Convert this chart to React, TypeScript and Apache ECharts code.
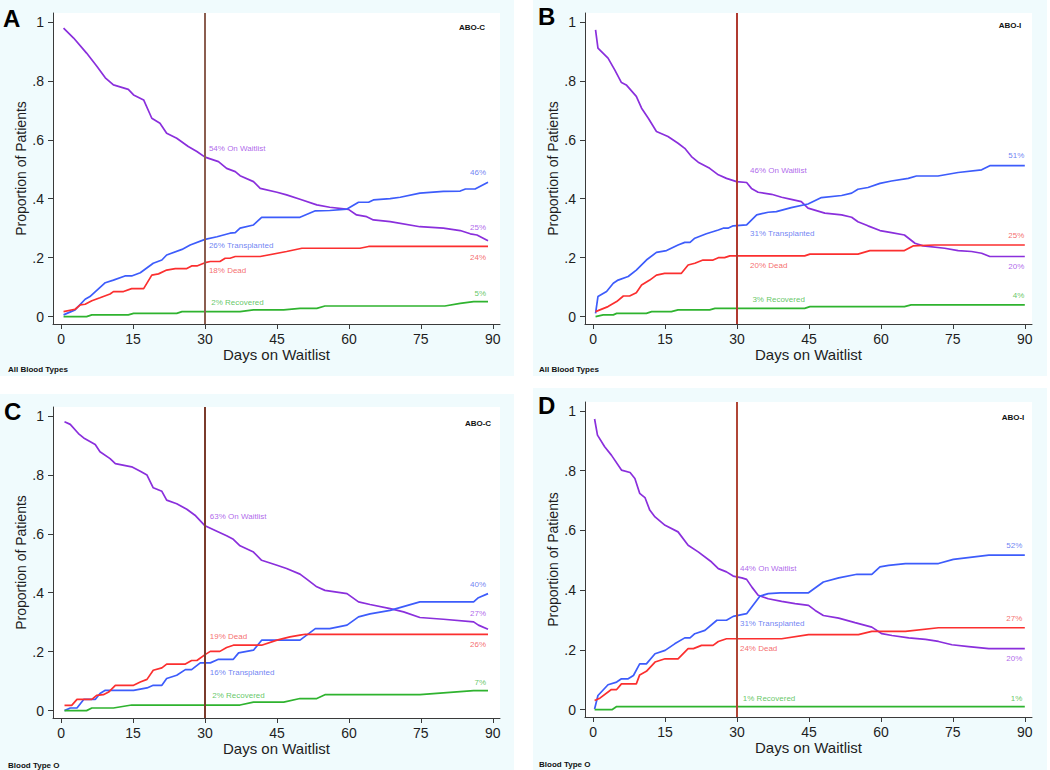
import React, { useEffect, useRef } from "react";
import * as echarts from "echarts";

// ---------- axis ticks ----------
const xTicks = [0, 15, 30, 45, 60, 75, 90];
const xTickLabels = ["0", "15", "30", "45", "60", "75", "90"];
const yTicks = [0, 0.2, 0.4, 0.6, 0.8, 1];
const yTickLabels = ["0", ".2", ".4", ".6", ".8", "1"];
const cutoffDay = 30;
const xTitle = "Days on Waitlist";
const yTitle = "Proportion of Patients";
const seriesNames = ["On Waitlist", "Transplanted", "Dead", "Recovered"];

// ---------- Panel A: ABO-C, all blood types ----------
const aWaitlist = [[0.5,0.979],[2.6,0.945],[5.3,0.894],[7.4,0.85],[9.2,0.81],[10.9,0.786],[14,0.771],[15.1,0.752],[17.2,0.735],[18.9,0.673],[20.6,0.656],[22,0.622],[24.1,0.605],[26.5,0.577],[28.3,0.56],[30,0.541],[32.8,0.526],[34.5,0.503],[36.3,0.492],[37.3,0.478],[40.1,0.458],[41.5,0.435],[45,0.422],[47,0.413],[49.8,0.398],[53.3,0.379],[56,0.371],[59.9,0.364],[61.6,0.345],[63.7,0.339],[65.1,0.328],[68.6,0.322],[74.8,0.305],[79.7,0.3],[83.2,0.292],[85.3,0.281],[86.7,0.277],[89,0.257]];
const aTransplanted = [[0.5,0.006],[2.9,0.023],[5,0.059],[6,0.068],[9.2,0.115],[10.9,0.124],[13.3,0.138],[14.7,0.138],[16.5,0.149],[19.2,0.181],[21,0.192],[22,0.209],[25.2,0.228],[26.9,0.243],[30,0.262],[32.5,0.271],[35.2,0.283],[36.3,0.285],[37.3,0.3],[40.1,0.311],[41.8,0.337],[49.8,0.337],[53,0.359],[56,0.36],[59.6,0.365],[62,0.388],[64.1,0.388],[65.1,0.396],[68.6,0.4],[70.7,0.405],[74.8,0.419],[79.7,0.425],[83.2,0.426],[84.3,0.433],[86.3,0.433],[89,0.456]];
const aDead = [[0.5,0.017],[2.9,0.025],[4,0.04],[5,0.042],[6.4,0.054],[8.1,0.064],[10.2,0.077],[10.9,0.085],[13,0.085],[14.7,0.095],[17.2,0.095],[18.9,0.141],[20.3,0.145],[22,0.158],[23.8,0.163],[26.2,0.163],[27.2,0.172],[28.3,0.172],[30,0.183],[31.1,0.187],[33.1,0.187],[34.2,0.198],[35.2,0.198],[36.3,0.204],[41.5,0.204],[47,0.221],[50.2,0.232],[62.3,0.232],[64.1,0.238],[89,0.238]];
const aRecovered = [[0.5,0],[5.3,0],[6.4,0.006],[14,0.006],[15.1,0.011],[24.1,0.011],[25.2,0.017],[37.3,0.017],[40.1,0.023],[46.4,0.023],[49.8,0.028],[53.3,0.028],[55,0.036],[80,0.036],[83.2,0.045],[86,0.051],[89,0.051]];
const aMidLabels = [[30.7,0.571,"54% On Waitlist"],[30.7,0.24,"26% Transplanted"],[30.7,0.156,"18% Dead"],[31.2,0.049,"2% Recovered"]];
const aEndLabels = [[88.7,0.303,"25%"],[88.7,0.49,"46%"],[88.7,0.2,"24%"],[88.7,0.079,"5%"]];

// ---------- Panel B: ABO-I, all blood types ----------
const bWaitlist = [[0.5,0.973],[1,0.911],[3.1,0.877],[4.5,0.837],[5.9,0.794],[6.9,0.786],[9,0.747],[10.1,0.707],[11.5,0.673],[13.2,0.628],[15.6,0.611],[17.7,0.588],[19.1,0.571],[20.5,0.543],[21.9,0.524],[24.3,0.503],[26.1,0.481],[27.8,0.469],[29.9,0.458],[32,0.455],[33,0.435],[34.4,0.422],[37.2,0.415],[39.3,0.405],[41.3,0.398],[43.4,0.39],[44.8,0.368],[48.3,0.351],[51.8,0.345],[53.9,0.337],[55.2,0.322],[57.3,0.308],[59.8,0.292],[62.2,0.285],[64.9,0.277],[67.1,0.249],[68.8,0.24],[73.3,0.232],[76.1,0.224],[78.9,0.221],[81,0.215],[82.7,0.204],[90,0.204]];
const bTransplanted = [[0.5,0.011],[1,0.068],[2.8,0.085],[4.2,0.113],[5.2,0.124],[7.3,0.136],[9,0.158],[11.1,0.192],[13.2,0.218],[15.3,0.224],[17.7,0.243],[19.1,0.252],[20.2,0.252],[21.2,0.266],[23.6,0.281],[26.1,0.294],[27.1,0.3],[28.1,0.3],[29.2,0.308],[32,0.311],[34.1,0.345],[36.5,0.354],[38.2,0.356],[41.3,0.37],[44.8,0.382],[47.6,0.404],[51.8,0.411],[53.9,0.419],[55.2,0.432],[57.3,0.438],[59.8,0.452],[62.2,0.46],[65.7,0.469],[67.4,0.477],[71.9,0.477],[76.1,0.489],[81,0.498],[82.7,0.512],[90,0.512]];
const bDead = [[0.5,0.017],[3.1,0.034],[4.9,0.051],[6.3,0.07],[7.6,0.07],[9,0.081],[10.1,0.107],[11.8,0.124],[13.2,0.141],[14.9,0.147],[18.4,0.147],[19.8,0.175],[21.2,0.181],[22.9,0.192],[25,0.192],[26.1,0.2],[27.4,0.2],[28.5,0.206],[44.1,0.206],[45.2,0.212],[55.2,0.212],[57.7,0.224],[64.9,0.224],[66.7,0.24],[71.2,0.243],[90,0.243]];
const bRecovered = [[0.5,0],[2.1,0.006],[4.2,0.006],[4.9,0.011],[11.1,0.011],[12.2,0.017],[16.3,0.017],[17.7,0.023],[24.3,0.023],[25.4,0.028],[44.1,0.028],[45.2,0.034],[64.9,0.034],[66.3,0.04],[90,0.04]];
const bMidLabels = [[32.6,0.495,"46% On Waitlist"],[32.6,0.283,"31% Transplanted"],[32.6,0.172,"20% Dead"],[33.1,0.059,"3% Recovered"]];
const bEndLabels = [[90,0.17,"20%"],[90,0.546,"51%"],[90,0.274,"25%"],[90,0.071,"4%"]];

// ---------- Panel C: ABO-C, blood type O ----------
const cWaitlist = [[0.7,0.98],[1.9,0.971],[3.6,0.94],[4.7,0.925],[7.1,0.903],[8.1,0.878],[10.2,0.855],[11.3,0.838],[14.7,0.827],[16.5,0.812],[17.9,0.799],[19.2,0.756],[21,0.744],[22,0.714],[24.1,0.702],[26.2,0.683],[27.9,0.663],[30,0.627],[32.8,0.606],[34.5,0.593],[35.9,0.581],[37.3,0.559],[40.1,0.538],[41.8,0.51],[45,0.493],[47,0.482],[49.8,0.463],[51.2,0.446],[53.3,0.42],[55,0.408],[59.6,0.397],[62,0.369],[64.4,0.36],[68.6,0.346],[71.4,0.335],[74.8,0.316],[79.7,0.31],[86,0.301],[87,0.29],[89,0.276]];
const cTransplanted = [[0.7,0],[1.9,0.009],[3.3,0.009],[4.7,0.038],[7.1,0.038],[8.1,0.058],[9.2,0.069],[15.1,0.069],[17.9,0.077],[19.2,0.086],[21,0.086],[22,0.109],[24.1,0.12],[25.9,0.139],[27.2,0.139],[29,0.162],[31.1,0.162],[32.8,0.174],[35.9,0.174],[37,0.196],[40.1,0.205],[41.8,0.239],[49.8,0.239],[53,0.278],[56,0.278],[59.6,0.29],[62,0.318],[64.4,0.328],[68.6,0.34],[74.8,0.369],[86,0.369],[87,0.383],[89,0.397]];
const cDead = [[0.7,0.018],[2.2,0.018],[3.3,0.038],[6.4,0.038],[7.4,0.052],[8.8,0.054],[9.9,0.063],[11.3,0.086],[15.1,0.086],[16.5,0.097],[17.9,0.106],[19.2,0.137],[21,0.145],[22,0.158],[25.9,0.158],[27.2,0.17],[28.3,0.17],[30,0.19],[31.1,0.201],[33.1,0.201],[34.5,0.214],[35.9,0.222],[41.8,0.222],[45,0.239],[47.7,0.25],[49.8,0.256],[50.9,0.259],[89,0.259]];
const cRecovered = [[0.7,0],[5.3,0],[6.4,0.009],[10.9,0.009],[14.7,0.019],[37.3,0.019],[40.1,0.029],[46.4,0.029],[49.8,0.041],[53.3,0.041],[55,0.054],[74.8,0.054],[77.6,0.058],[86,0.068],[89,0.068]];
const cMidLabels = [[30.9,0.657,"63% On Waitlist"],[30.9,0.129,"16% Transplanted"],[30.9,0.252,"19% Dead"],[31.4,0.052,"2% Recovered"]];
const cEndLabels = [[88.7,0.328,"27%"],[88.7,0.428,"40%"],[88.7,0.226,"26%"],[88.7,0.097,"7%"]];

// ---------- Panel D: ABO-I, blood type O ----------
const dWaitlist = [[0.3,0.973],[0.9,0.919],[2.4,0.88],[3.8,0.852],[5.9,0.802],[7.7,0.794],[8.7,0.774],[9.7,0.724],[10.8,0.71],[11.8,0.668],[12.9,0.645],[15,0.617],[17.7,0.595],[19.8,0.55],[21.9,0.528],[24.7,0.494],[26.1,0.472],[27.8,0.461],[29.2,0.447],[31,0.441],[32,0.436],[33.1,0.41],[34.4,0.383],[36.5,0.371],[39.3,0.362],[42.1,0.355],[44.9,0.349],[46.3,0.332],[48,0.315],[51.2,0.306],[54.6,0.291],[58.1,0.276],[60.2,0.254],[62.3,0.248],[65.8,0.24],[69.3,0.235],[72,0.228],[74.8,0.217],[78.3,0.211],[82.5,0.204],[90,0.204]];
const dTransplanted = [[0.3,0.002],[1,0.047],[3.1,0.083],[4.9,0.092],[5.9,0.103],[7.3,0.103],[8.4,0.114],[9.7,0.153],[11.1,0.153],[12.9,0.187],[15,0.198],[17,0.22],[19.1,0.24],[20.2,0.24],[21.2,0.254],[23.3,0.265],[25.8,0.299],[27.8,0.299],[29.2,0.312],[32,0.321],[34.8,0.38],[36.5,0.388],[39,0.391],[44.9,0.391],[48,0.427],[51.2,0.441],[55,0.453],[58.1,0.453],[59.8,0.478],[61.6,0.483],[65.1,0.489],[72,0.489],[75.1,0.503],[82.5,0.517],[90,0.517]];
const dDead = [[0.3,0.03],[1.4,0.038],[3.8,0.067],[4.9,0.067],[5.9,0.086],[9,0.086],[9.7,0.116],[11.1,0.128],[12.9,0.159],[15,0.17],[17.7,0.17],[19.8,0.204],[20.9,0.204],[22.6,0.215],[25,0.215],[26.1,0.228],[27.8,0.237],[39.3,0.237],[44.9,0.251],[55.3,0.251],[58.1,0.262],[65.1,0.262],[72,0.274],[90,0.274]];
const dRecovered = [[0.3,0],[4,0],[4.9,0.01],[90,0.01]];
const dMidLabels = [[30.5,0.474,"44% On Waitlist"],[30.5,0.287,"31% Transplanted"],[30.5,0.204,"24% Dead"],[31.1,0.038,"1% Recovered"]];
const dEndLabels = [[89.6,0.17,"20%"],[89.6,0.55,"52%"],[89.6,0.304,"27%"],[89.6,0.038,"1%"]];

// ---------- styles ----------
const FONT = "'Liberation Sans', Arial, Helvetica, sans-serif";
const lineColors = ["#8a2fdc", "#3d5cfb", "#fb2f2f", "#2fb32f"];
const labelColors = ["#9a3ee6", "#4a63f0", "#f24848", "#3cb83c"];
const panelBg = "#f0fbfd";

const panels = [
  { letter: "A", abo: "ABO-C", group: "All Blood Types", data: [aWaitlist, aTransplanted, aDead, aRecovered], mid: aMidLabels, end: aEndLabels,
    grid: { left: 53, top: 13, width: 447, height: 311 }, bg: [0, 0, 514, 376], cut: "#8b5e50",
    letterPos: [3, 6], aboPos: [472, 27], groupPos: [8, 369] },
  { letter: "B", abo: "ABO-I", group: "All Blood Types", data: [bWaitlist, bTransplanted, bDead, bRecovered], mid: bMidLabels, end: bEndLabels,
    grid: { left: 585, top: 13, width: 447, height: 311 }, bg: [533, 0, 514, 376], cut: "#b03a30",
    letterPos: [538, 4], aboPos: [1010, 25], groupPos: [539, 369] },
  { letter: "C", abo: "ABO-C", group: "Blood Type O", data: [cWaitlist, cTransplanted, cDead, cRecovered], mid: cMidLabels, end: cEndLabels,
    grid: { left: 53, top: 407, width: 447, height: 311 }, bg: [0, 394, 514, 376], cut: "#7a3b2c",
    letterPos: [4, 399], aboPos: [478, 423], groupPos: [8, 765] },
  { letter: "D", abo: "ABO-I", group: "Blood Type O", data: [dWaitlist, dTransplanted, dDead, dRecovered], mid: dMidLabels, end: dEndLabels,
    grid: { left: 585, top: 402, width: 447, height: 315 }, bg: [533, 388, 514, 382], cut: "#b04636",
    letterPos: [538, 393], aboPos: [1013, 417], groupPos: [539, 764] },
];

function tickLabel(v: number, ticks: number[], labels: string[]) {
  let best = 0;
  for (let i = 0; i < ticks.length; i++) if (Math.abs(ticks[i] - v) < Math.abs(ticks[best] - v)) best = i;
  return labels[best];
}

function buildOption() {
  const grids: any[] = [];
  const xAxes: any[] = [];
  const yAxes: any[] = [];
  const series: any[] = [];
  const graphic: any[] = [];
  const axisLineStyle = { color: "#3a3a3a", width: 1 };

  panels.forEach((p, i) => {
    grids.push({ ...p.grid, show: true, backgroundColor: "#ffffff", borderWidth: 0 });
    xAxes.push({
      type: "value", gridIndex: i, min: -1.7, max: 91.5,
      axisLine: { show: true, onZero: false, lineStyle: axisLineStyle },
      axisTick: { show: true, length: 5, customValues: xTicks, lineStyle: axisLineStyle },
      axisLabel: { customValues: xTicks, formatter: (v: number) => tickLabel(v, xTicks, xTickLabels), fontSize: 14, color: "#1e1e1e", fontFamily: FONT, margin: 8 },
      splitLine: { show: false },
      name: xTitle, nameLocation: "middle", nameGap: 21,
      nameTextStyle: { fontSize: 15, color: "#1e1e1e", fontFamily: FONT },
    });
    yAxes.push({
      type: "value", gridIndex: i, min: -0.025, max: 1.03,
      axisLine: { show: true, onZero: false, lineStyle: axisLineStyle },
      axisTick: { show: true, length: 5, customValues: yTicks, lineStyle: axisLineStyle },
      axisLabel: { customValues: yTicks, formatter: (v: number) => tickLabel(v, yTicks, yTickLabels), fontSize: 14, color: "#1e1e1e", fontFamily: FONT, margin: 9 },
      splitLine: { show: false },
      name: yTitle, nameLocation: "middle", nameGap: 24,
      nameTextStyle: { fontSize: 14, color: "#1e1e1e", fontFamily: FONT },
    });

    p.data.forEach((d, k) => {
      const s: any = {
        type: "line", name: seriesNames[k], xAxisIndex: i, yAxisIndex: i, data: d,
        showSymbol: false, symbol: "none", silent: true,
        lineStyle: { color: lineColors[k], width: 1.7 }, z: 3,
      };
      if (k === 0) {
        s.markLine = {
          silent: true, symbol: "none", label: { show: false },
          lineStyle: { color: p.cut, width: 2, type: "solid" },
          data: [{ xAxis: cutoffDay }],
        };
      }
      series.push(s);
    });

    const labelData: any[] = [];
    p.mid.forEach((m: any, k: number) => {
      labelData.push({
        value: [m[0], m[1]],
        label: { show: true, formatter: m[2], position: "right", distance: 0, color: labelColors[k], fontSize: 8, fontFamily: FONT },
      });
    });
    p.end.forEach((m: any, k: number) => {
      labelData.push({
        value: [m[0], m[1]],
        label: { show: true, formatter: m[2], position: "left", distance: 0, color: labelColors[k], fontSize: 8, fontFamily: FONT },
      });
    });
    series.push({
      type: "scatter", xAxisIndex: i, yAxisIndex: i, data: labelData, symbolSize: 1,
      itemStyle: { color: "rgba(0,0,0,0)" }, silent: true, z: 5,
    });

    graphic.push({
      type: "rect", z: -100, silent: true,
      shape: { x: p.bg[0], y: p.bg[1], width: p.bg[2], height: p.bg[3] },
      style: { fill: panelBg },
    });
    graphic.push({
      type: "text", x: p.letterPos[0], y: p.letterPos[1], silent: true,
      style: { text: p.letter, fontSize: 24, fontWeight: "bold", fill: "#000", fontFamily: FONT },
    });
    graphic.push({
      type: "text", x: p.aboPos[0], y: p.aboPos[1], silent: true,
      style: { text: p.abo, fontSize: 8, fontWeight: "bold", fill: "#111", fontFamily: FONT, align: "center", verticalAlign: "middle" },
    });
    graphic.push({
      type: "text", x: p.groupPos[0], y: p.groupPos[1], silent: true,
      style: { text: p.group, fontSize: 8, fontWeight: "bold", fill: "#111", fontFamily: FONT, align: "left", verticalAlign: "middle" },
    });
  });

  return {
    animation: false,
    backgroundColor: "#ffffff",
    textStyle: { fontFamily: FONT },
    grid: grids,
    xAxis: xAxes,
    yAxis: yAxes,
    series,
    graphic,
  };
}

export default function App() {
  const ref = useRef<HTMLDivElement>(null);
  useEffect(() => {
    document.body.style.margin = "0";
    if (!ref.current) return;
    const chart = echarts.init(ref.current, undefined, { renderer: "svg" });
    chart.setOption(buildOption() as any);
    return () => chart.dispose();
  }, []);
  return <div ref={ref} style={{ width: 1050, height: 770 }} />;
}
